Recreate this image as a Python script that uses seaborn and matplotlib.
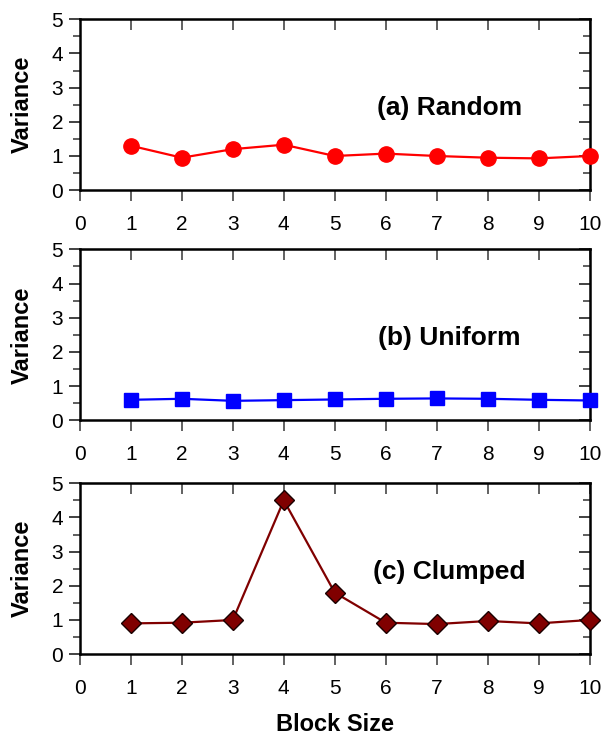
import matplotlib
matplotlib.use("Agg")
import matplotlib.pyplot as plt
from matplotlib.ticker import MultipleLocator
import seaborn as sns

sns.set_style("white")
plt.rcParams['font.family'] = ['Liberation Sans', 'DejaVu Sans']
plt.rcParams['text.color'] = 'black'
plt.rcParams['axes.labelcolor'] = 'black'
plt.rcParams['xtick.labelcolor'] = 'black'
plt.rcParams['ytick.labelcolor'] = 'black'

block_size = [1, 2, 3, 4, 5, 6, 7, 8, 9, 10]
random_var = [1.30, 0.95, 1.20, 1.33, 1.00, 1.07, 1.00, 0.95, 0.93, 1.00]
uniform_var = [0.60, 0.63, 0.57, 0.59, 0.61, 0.63, 0.64, 0.63, 0.60, 0.58]
clumped_var = [0.90, 0.92, 1.00, 4.50, 1.80, 0.92, 0.88, 0.97, 0.90, 1.00]

panels = [
    ("(a) Random", random_var, "#ff0000", "#ff0000", "o", 11),
    ("(b) Uniform", uniform_var, "#0000ff", "#0000ff", "s", 9.5),
    ("(c) Clumped", clumped_var, "#800000", "#1a0000", "D", 10),
]

fig = plt.figure(figsize=(6.01, 7.40), dpi=100)
bottoms = [0.743, 0.432, 0.116]

for (label, vals, col, edge, mk, ms), b in zip(panels, bottoms):
    ax = fig.add_axes([0.133, b, 0.848, 0.231])
    sns.lineplot(x=block_size, y=vals, ax=ax, color=col, marker=mk,
                 markersize=ms, markeredgecolor=edge, markeredgewidth=1,
                 linewidth=1.6, clip_on=False, zorder=5)
    ax.set_xlim(0, 10)
    ax.set_ylim(0, 5)
    ax.xaxis.set_major_locator(MultipleLocator(1))
    ax.yaxis.set_major_locator(MultipleLocator(1))
    ax.yaxis.set_minor_locator(MultipleLocator(0.5))
    for s in ax.spines.values():
        s.set_color("black")
        s.set_linewidth(1.8)
    ax.tick_params(axis='x', which='major', direction='out', length=8, width=1.3,
                   color='#555555', labelsize=15, pad=10, top=False, bottom=True)
    ax.tick_params(axis='y', which='major', direction='out', length=8, width=1.3,
                   color='#333333', labelsize=15, pad=4, left=True, right=False)
    ax.tick_params(axis='y', which='minor', direction='out', length=5, width=1.1,
                   color='#333333', left=True, right=False)

    top = ax.secondary_xaxis('top')
    top.set_xticks(block_size)
    top.tick_params(direction='in', length=8, width=1.3, color='#555555',
                    labeltop=False)
    right = ax.secondary_yaxis('right')
    right.yaxis.set_major_locator(MultipleLocator(1))
    right.yaxis.set_minor_locator(MultipleLocator(0.5))
    right.tick_params(which='major', direction='in', length=8, width=1.3,
                      color='#333333', labelright=False)
    right.tick_params(which='minor', direction='in', length=5, width=1.1,
                      color='#333333')

    ax.set_ylabel("Variance", fontsize=17, fontweight='bold', labelpad=13)
    ax.set_xlabel("")
    ax.text(7.25, 2.4, label, fontsize=19, fontweight='bold', ha='center', va='center')

ax.set_xlabel("Block Size", fontsize=17, fontweight='bold', labelpad=11)

fig.savefig("out.png", dpi=100)
